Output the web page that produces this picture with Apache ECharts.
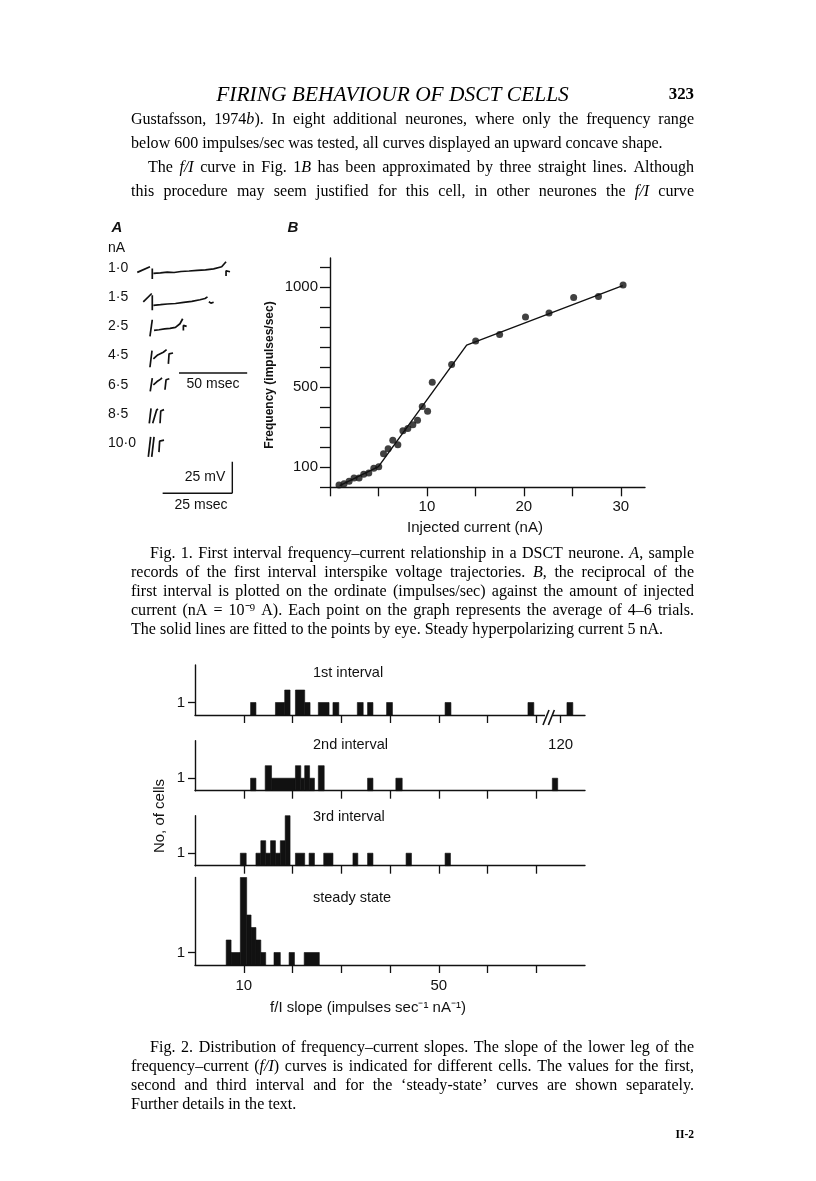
<!DOCTYPE html>
<html><head><meta charset="utf-8">
<script src="https://cdn.jsdelivr.net/npm/echarts@6/dist/echarts.min.js"></script>
<style>html,body{margin:0;padding:0;background:#fff}#c{width:816px;height:1181px}</style>
</head><body><div id="c"></div>
<script>
// ================= DATA =================
// ---- Fig. 1B : frequency vs injected current ----
const currentNA = [0.93,1.45,1.97,2.48,3.0,3.48,4.0,4.52,5.03,5.52,6.0,6.48,7.0,7.52,8.03,8.55,9.03,9.52,10.07,10.55,12.55,15.03,17.5,20.17,22.6,25.14,27.7,30.24];
const frequency = [12,18,30,47,47,65,72,95,102,168,192,235,213,282,293,312,335,403,380,525,613,730,763,850,870,948,953,1010];
const fitCurrent = [1.0,5.0,14.1,30.2];
const fitFrequency = [8,103,710,1007];
const bXTicks = [0,5,10,15,20,25,30];
const bXLabels = [10,20,30];
const bYTicks = [0,100,200,300,400,500,600,700,800,900,1000,1100];
const bYLabels = [100,500,1000];

// ---- Fig. 1A : voltage trajectories (ms, mV relative to each record's level) ----
const currentLabels = ['1·0','1·5','2·5','4·5','6·5','8·5','10·0'];
const trace_1_0 = [[[-2,-3.4],[7.3,1.0]],[[9.0,-0.3],[9.0,-8.6]],[[9.8,-4.1],[15,-3.8],[20,-3.2],[25,-3.5],[30,-2.7],[36,-2.3],[42,-1.8],[48,-1.5],[54,-0.6],[59.9,1.0],[63.1,4.9]],[[63.1,-6.3],[63.1,-2.1],[66,-2.9]]];
const trace_1_5 = [[[2.4,-3.7],[8.6,2.9]],[[9.0,1.6],[9.0,-10.2]],[[9.8,-6.3],[15,-5.8],[20,-5.3],[26,-4.9],[32,-4.0],[38,-3.3],[44,-2.0],[47.7,-1.0],[49.5,0.3]],[[50.5,-3.5],[52,-4.6],[54,-3.9]]];
const trace_2_5 = [[[7.3,-7.8],[9.0,5.2]],[[10.3,-3.1],[14,-2.6],[18,-1.9],[22,-1.6],[26,-0.8],[29.3,2.1],[31.3,6.0]],[[31.8,-3.1],[31.8,0.8],[34.2,0]]];
const trace_4_5 = [[[7.3,-9.1],[8.8,3.9]],[[9.8,-2.6],[13,0.5],[17.1,2.6],[19.5,4.6]],[[20.8,-6.5],[21.3,1.3],[24.2,2.0]]];
const trace_6_5 = [[[7.5,-5.2],[9.0,5.2]],[[9.8,0],[12.5,2.5],[15.2,4.4],[16.1,5.5]],[[18.3,-3.9],[19.1,3.9],[21.5,4.7]]];
const trace_8_5 = [[[6.8,-7.3],[8.1,4.4]],[[9.3,-7.3],[12.2,3.1],[13.2,3.9]],[[14.7,-7.3],[15.2,2.3],[17.6,3.4]]];
const trace_10_0 = [[[6.1,-10.7],[7.8,4.9]],[[8.6,-10.7],[10.3,4.9]],[[13.9,-7.0],[14.4,1.6],[17.6,2.3]]];
const scaleBar50ms = [[28.6,100],[78.6,100]];
const scaleBar25mV = [[67.7,6],[67.7,30.7]];
const scaleBar25ms = [[16.6,6],[67.7,6]];

// ---- Fig. 2 : histograms [bin start, bin end, no. of cells] (f/I slope) ----
const firstInterval = [[11.4,12.5,1],[16.5,18.4,1],[18.4,19.5,2],[20.6,22.5,2],[22.5,23.6,1],[25.3,27.5,1],[28.3,29.5,1],[33.3,34.5,1],[35.4,36.5,1],[39.3,40.5,1],[51.3,52.5,1],[68.3,69.5,1],[121.3,122.5,1]];
const secondInterval = [[11.4,12.5,1],[14.4,15.7,2],[15.7,20.6,1],[20.6,21.7,2],[21.7,22.5,1],[22.5,23.5,2],[23.5,24.5,1],[25.3,26.5,2],[35.4,36.5,1],[41.2,42.5,1],[73.3,74.4,1]];
const thirdInterval = [[9.3,10.5,1],[12.5,13.5,1],[13.5,14.5,2],[14.5,15.5,1],[15.5,16.5,2],[16.5,17.5,1],[17.5,18.5,2],[18.5,19.5,4],[20.6,22.5,1],[23.4,24.5,1],[26.4,28.3,1],[32.4,33.4,1],[35.4,36.5,1],[43.3,44.4,1],[51.3,52.4,1]];
const steadyState = [[6.4,7.4,2],[7.4,9.3,1],[9.3,10.6,7],[10.6,11.5,4],[11.5,12.5,3],[12.5,13.5,2],[13.5,14.5,1],[16.2,17.5,1],[19.3,20.4,1],[22.4,25.5,1]];
const histTicks = [10,20,30,40,50,60,70];
const histLabels = [10,50];
const histTitles = ['1st interval','2nd interval','3rd interval','steady state'];
// axis break of the 1st-interval panel: values from 120 are drawn from position 75
const breakValue = 120, breakPosition = 75, breakMarks = [72.0, 73.1];

// ================= TEXT =================
const headerText = 'FIRING BEHAVIOUR OF DSCT CELLS';
const pageNumber = '323';
const bodyLines = [
 'Gustafsson, 1974{i|b}). In eight additional neurones, where only the frequency range',
 'below 600 impulses/sec was tested, all curves displayed an upward concave shape.',
 'The {i|f/I} curve in Fig. 1{i|B} has been approximated by three straight lines. Although',
 'this procedure may seem justified for this cell, in other neurones the {i|f/I} curve'
];
const caption1Lines = [
 'Fig. 1. First interval frequency–current relationship in a DSCT neurone. {i|A}, sample',
 'records of the first interval interspike voltage trajectories. {i|B}, the reciprocal of the',
 'first interval is plotted on the ordinate (impulses/sec) against the amount of injected',
 'current (nA = 10⁻⁹ A). Each point on the graph represents the average of 4–6 trials.',
 'The solid lines are fitted to the points by eye. Steady hyperpolarizing current 5 nA.'
];
const caption2Lines = [
 'Fig. 2. Distribution of frequency–current slopes. The slope of the lower leg of the',
 'frequency–current ({i|f/I}) curves is indicated for different cells. The values for the first,',
 'second and third interval and for the ‘steady-state’ curves are shown separately.',
 'Further details in the text.'
];

// ================= RENDER =================
const INK = '#111';
const SERIF = '"Liberation Serif","Times New Roman",serif';
const SANS = '"Liberation Sans",Arial,Helvetica,sans-serif';
const ctx = document.createElement('canvas').getContext('2d');
function parseWord(w){const s=[];const re=/\{i\|([^}]*)\}|([^{]+)/g;let m;while((m=re.exec(w))){if(m[1]!==undefined)s.push({t:m[1],it:true});else s.push({t:m[2],it:false});}return s;}
function segW(segs,size,weight,fam){let w=0;for(const s of segs){ctx.font=(s.it?'italic':'normal')+' '+(weight||'normal')+' '+size+'px '+(fam||SERIF);w+=ctx.measureText(s.t).width;}return w;}
function strip(t){return t.replace(/\{i\|([^}]*)\}/g,'$1');}
function fitSize(str,target,weight,italic,fam){const segs=[{t:strip(str),it:!!italic}];return 100*target/segW(segs,100,weight,fam);}
function serifText(w,x,y,size,opt){opt=opt||{};return {type:'text',x:x,y:y,z:100,silent:true,style:{text:w,fontSize:size,fontFamily:SERIF,fontStyle:opt.italic?'italic':'normal',fontWeight:opt.weight||'normal',fill:'#000',align:opt.align||'left',verticalAlign:'middle',rich:{i:{fontStyle:'italic',fontSize:size,fontFamily:SERIF,fill:'#000'}}}};}
function setLines(lines,layout,size){
  const els=[];
  lines.forEach((text,k)=>{
    const L=layout[k];
    const words=text.split(' ').filter(s=>s.length);
    const widths=words.map(w=>segW(parseWord(w),size));
    const total=widths.reduce((a,b)=>a+b,0);
    const space=segW([{t:' ',it:false}],size);
    const gap=(L.justify&&words.length>1)?(L.x1-L.x0-total)/(words.length-1):space;
    let x=L.x0;
    words.forEach((w,i)=>{els.push(serifText(w,x,L.y,size));x+=widths[i]+gap;});
  });
  return els;
}
function sansText(t,x,y,size,opt){opt=opt||{};return {type:'text',x:x,y:y,z:100,silent:true,rotation:opt.rotation||0,style:{text:t,fontSize:size,fontFamily:SANS,fontStyle:opt.italic?'italic':'normal',fontWeight:opt.weight||'normal',fill:INK,align:opt.align||'center',verticalAlign:'middle'}};}

const bodySize = fitSize(bodyLines[1],532);
const capSize = fitSize(caption1Lines[4],532);
const headSize = fitSize(headerText,353,'normal',true);

const graphics = [];
graphics.push(serifText(headerText,392.5,95,headSize,{italic:true,align:'center'}));
graphics.push(serifText(pageNumber,694,95,bodySize*1.05,{weight:'bold',align:'right'}));
graphics.push(...setLines(bodyLines,[
 {x0:131,x1:694,y:120,justify:true},{x0:131,x1:694,y:144,justify:false},
 {x0:148,x1:694,y:168,justify:true},{x0:131,x1:694,y:192,justify:true}],bodySize));
graphics.push(...setLines(caption1Lines,[
 {x0:150,x1:694,y:554,justify:true},{x0:131,x1:694,y:573,justify:true},{x0:131,x1:694,y:592,justify:true},
 {x0:131,x1:694,y:611,justify:true},{x0:131,x1:694,y:630,justify:false}],capSize));
graphics.push(...setLines(caption2Lines,[
 {x0:150,x1:694,y:1048,justify:true},{x0:131,x1:694,y:1067,justify:true},{x0:131,x1:694,y:1086,justify:true},
 {x0:131,x1:694,y:1105,justify:false}],capSize));
graphics.push(serifText('II-2',694,1135,capSize*0.72,{weight:'bold',align:'right'}));

// Fig 1 labels
graphics.push(sansText('A',117,228,15,{italic:true,weight:'bold'}));
graphics.push(sansText('B',293,228,15,{italic:true,weight:'bold'}));
graphics.push(sansText('nA',108,248,14,{align:'left'}));
// grid A geometry
const GA={left:129.1,top:245,width:130.9,height:256,xmin:-8,xmax:88,ymin:0,ymax:200};
const rowLevel = i => 182 - i*22.8;
const aY = v => GA.top + GA.height*(GA.ymax - v)/(GA.ymax-GA.ymin);
currentLabels.forEach((t,i)=>graphics.push(sansText(t,108,aY(rowLevel(i)),14,{align:'left'})));
graphics.push(sansText('50 msec',213,384,14));
graphics.push(sansText('25 mV',205,477,14));
graphics.push(sansText('25 msec',201,505,14));
graphics.push(sansText('Frequency (impulses/sec)',270,375,12,{weight:'bold',rotation:Math.PI/2}));
graphics.push(sansText('Injected current (nA)',475,528,15));
// Fig 2 labels
const histTitleY=[673,745,817,898];
histTitles.forEach((t,i)=>graphics.push(sansText(t,313,histTitleY[i],14.5,{align:'left'})));
graphics.push(sansText('No, of cells',160,816,15,{rotation:Math.PI/2}));
graphics.push(sansText('f/I slope (impulses sec⁻¹ nA⁻¹)',368,1008,15));

// ---- build series ----
const series=[];const xAxes=[];const yAxes=[];const grids=[];
const axLine={lineStyle:{color:INK,width:1.4}};
const lbl={color:INK,fontFamily:SANS,fontSize:15};
const plain = v => String(v);
// grid 0: Fig 1A
grids.push({left:GA.left,top:GA.top,width:GA.width,height:GA.height});
xAxes.push({gridIndex:0,type:'value',min:GA.xmin,max:GA.xmax,show:false});
yAxes.push({gridIndex:0,type:'value',min:GA.ymin,max:GA.ymax,show:false});
[trace_1_0,trace_1_5,trace_2_5,trace_4_5,trace_6_5,trace_8_5,trace_10_0].forEach((tr,i)=>{
  tr.forEach(stroke=>series.push({type:'line',xAxisIndex:0,yAxisIndex:0,symbol:'none',silent:true,
    lineStyle:{color:INK,width:1.7},data:stroke.map(p=>[p[0],p[1]+rowLevel(i)])}));
});
[scaleBar50ms,scaleBar25mV,scaleBar25ms].forEach(b=>series.push({type:'line',xAxisIndex:0,yAxisIndex:0,symbol:'none',silent:true,lineStyle:{color:INK,width:1.4},data:b}));

// grid 1: Fig 1B
grids.push({left:330,top:258,width:315,height:229.3});
xAxes.push({gridIndex:1,type:'value',min:0,max:32.5,axisLine:axLine,splitLine:{show:false},
  axisTick:{show:true,customValues:bXTicks,length:9,lineStyle:{color:INK,width:1.3}},
  axisLabel:Object.assign({customValues:bXLabels,margin:12,formatter:plain},lbl)});
yAxes.push({gridIndex:1,type:'value',min:0,max:1145,axisLine:Object.assign({show:true},axLine),splitLine:{show:false},
  axisTick:{show:true,customValues:bYTicks,length:10,lineStyle:{color:INK,width:1.3}},
  axisLabel:Object.assign({customValues:bYLabels,margin:12,formatter:plain},lbl)});
series.push({type:'line',xAxisIndex:1,yAxisIndex:1,symbol:'none',silent:true,lineStyle:{color:INK,width:1.4},
  data:fitCurrent.map((x,i)=>[x,fitFrequency[i]])});
series.push({type:'scatter',xAxisIndex:1,yAxisIndex:1,symbolSize:7,itemStyle:{color:INK},
  data:currentNA.map((x,i)=>[x,frequency[i]])});

// grids 2-5: Fig 2
const histTop=[665,740.7,815.7,877.5];
const histMax=[4,4,4,7];
const unitH=12.5;
const toPos = v => v>=breakValue ? v-breakValue+breakPosition : v;
function histRender(params,api){
  const a=api.coord([api.value(0),api.value(2)]);
  const b=api.coord([api.value(1),0]);
  return {type:'rect',shape:{x:a[0],y:a[1],width:b[0]-a[0],height:b[1]-a[1]},style:{fill:INK,stroke:INK,lineWidth:0.6}};
}
[firstInterval,secondInterval,thirdInterval,steadyState].forEach((d,k)=>{
  const gi=k+2;
  grids.push({left:195,width:390,top:histTop[k],height:histMax[k]*unitH});
  const ticks = k===0 ? histTicks.concat([breakPosition]) : histTicks;
  let xl;
  if(k===0) xl=Object.assign({customValues:[breakPosition],margin:22,formatter:v=>String(breakValue)},lbl);
  else if(k===3) xl=Object.assign({customValues:histLabels,margin:13,formatter:plain},lbl);
  else xl={show:false};
  xAxes.push({gridIndex:gi,type:'value',min:0,max:80,axisLine:axLine,splitLine:{show:false},
    axisTick:{show:true,customValues:ticks,length:8,lineStyle:{color:INK,width:1.3}},axisLabel:xl});
  yAxes.push({gridIndex:gi,type:'value',min:0,max:histMax[k],axisLine:Object.assign({show:true},axLine),splitLine:{show:false},
    axisTick:{show:true,customValues:[1],length:7,lineStyle:{color:INK,width:1.3}},
    axisLabel:Object.assign({customValues:[1],margin:10,formatter:plain},lbl)});
  series.push({type:'custom',xAxisIndex:gi,yAxisIndex:gi,silent:true,renderItem:histRender,
    encode:{x:[0,1],y:2},data:d.map(r=>[toPos(r[0]),toPos(r[1]),r[2]])});
});
// axis-break marks on the 1st-interval axis
series.push({type:'custom',xAxisIndex:2,yAxisIndex:2,silent:true,z:5,encode:{x:[0,1]},data:[breakMarks],
  renderItem:function(params,api){
    const p0=api.coord([api.value(0),0]),p1=api.coord([api.value(1),0]);
    const sl=(p)=>({type:'line',shape:{x1:p[0]-3,y1:p[1]+10,x2:p[0]+3,y2:p[1]-5},style:{stroke:INK,lineWidth:1.6}});
    return {type:'group',children:[
      {type:'rect',shape:{x:p0[0]-1,y:p0[1]-2,width:p1[0]-p0[0]+2,height:4},style:{fill:'#fff'}},
      sl(p0),sl(p1)]};
  }});

const chart=echarts.init(document.getElementById('c'),null,{renderer:'canvas'});
chart.setOption({
  backgroundColor:'#fff',animation:false,
  grid:grids.map(g=>Object.assign({outerBoundsMode:'none',containLabel:false},g)),
  xAxis:xAxes,yAxis:yAxes,series:series,graphic:{elements:graphics}
});
</script></body></html>
